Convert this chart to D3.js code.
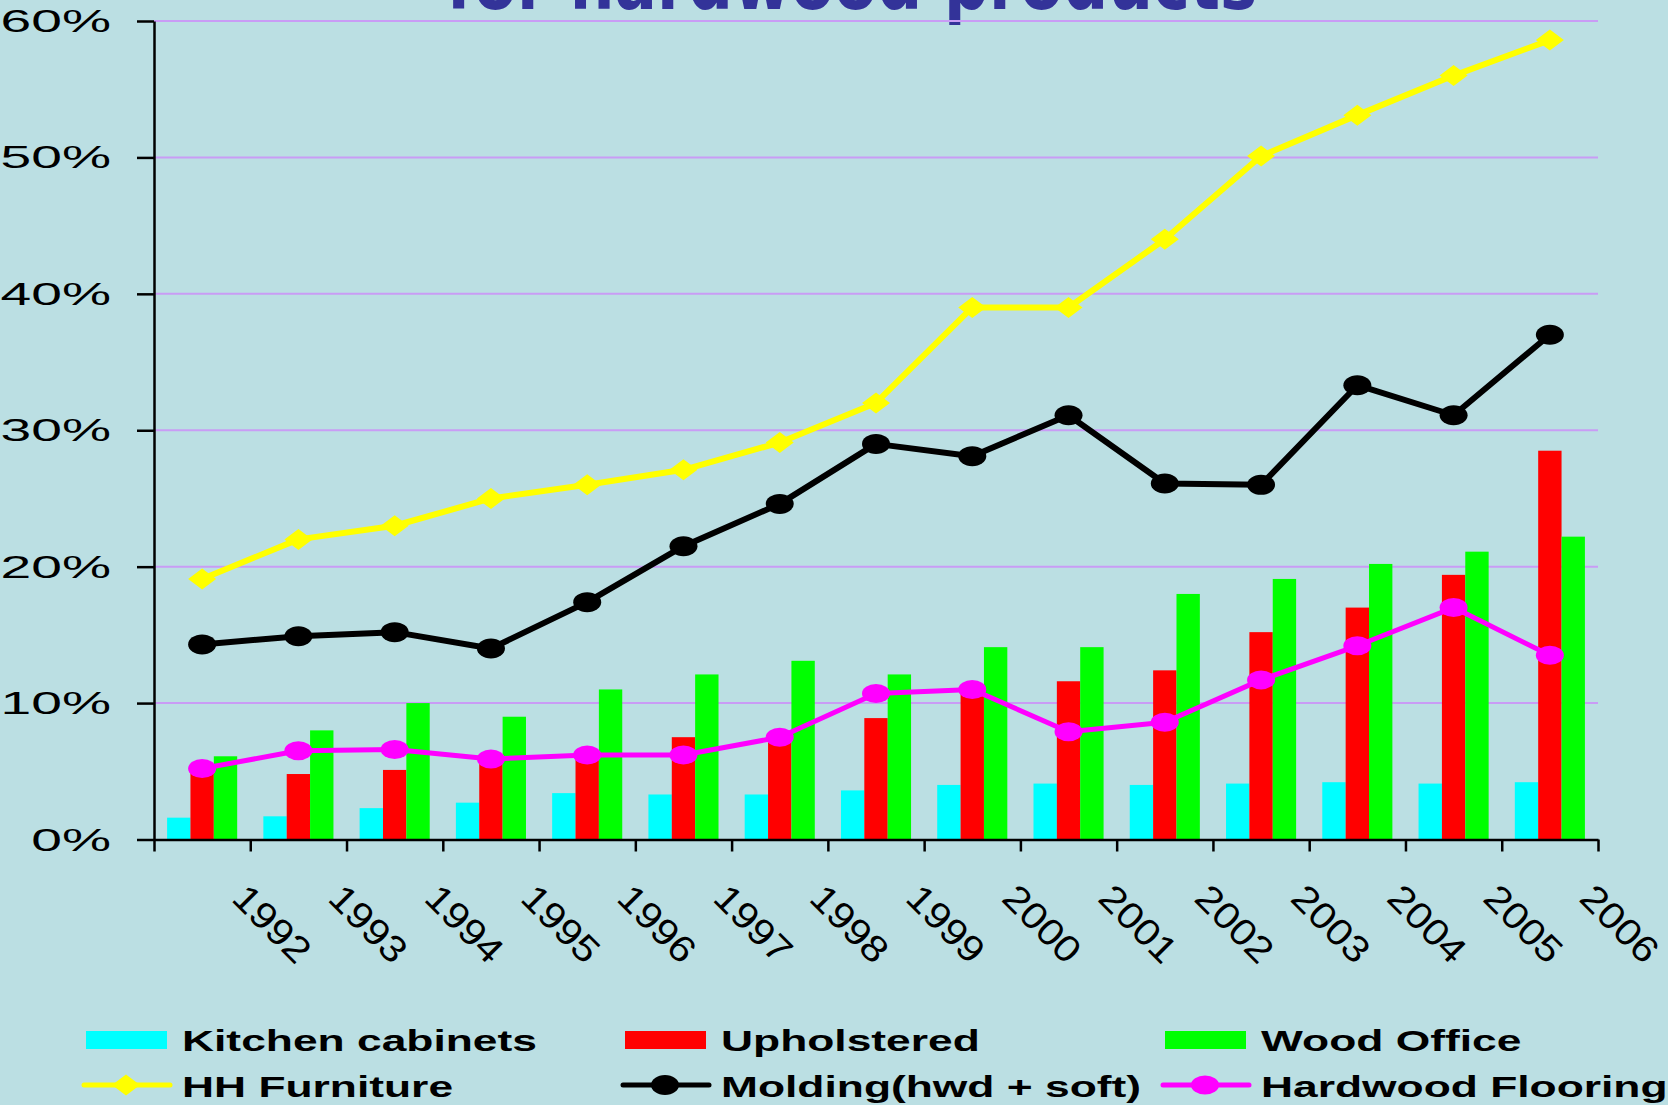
<!DOCTYPE html>
<html>
<head>
<meta charset="utf-8">
<script src="https://cdn.jsdelivr.net/npm/d3@7"></script>
<style>
  html, body { margin: 0; padding: 0; background: #bbdfe3; overflow: hidden; }
  svg { display: block; font-family: "Liberation Sans", Arial, sans-serif; }
</style>
</head>
<body>
<svg id="chart" width="1668" height="1105"></svg>
<script>
var years = ['1992','1993','1994','1995','1996','1997','1998','1999','2000','2001','2002','2003','2004','2005','2006'];

// bar series (percent)
var kitchen     = [1.6, 1.7, 2.3, 2.7, 3.4, 3.3, 3.3, 3.6, 4.0, 4.1, 4.0, 4.1, 4.2, 4.1, 4.2];
var upholstered = [4.9, 4.8, 5.1, 6.0, 6.1, 7.5, 7.2, 8.9, 10.8, 11.6, 12.4, 15.2, 17.0, 19.4, 28.5];
var woodOffice  = [6.1, 8.0, 10.0, 9.0, 11.0, 12.1, 13.1, 12.1, 14.1, 14.1, 18.0, 19.1, 20.2, 21.1, 22.2];

// line series (percent)
var hhFurniture = [19.1, 22.0, 23.0, 25.0, 26.0, 27.1, 29.1, 32.0, 39.0, 39.0, 44.0, 50.1, 53.1, 56.0, 58.6];
var molding     = [14.3, 14.9, 15.2, 14.0, 17.4, 21.5, 24.6, 29.0, 28.1, 31.1, 26.1, 26.0, 33.3, 31.1, 37.0];
var flooring    = [5.2, 6.5, 6.6, 5.9, 6.2, 6.2, 7.5, 10.7, 11.0, 7.9, 8.6, 11.7, 14.2, 17.0, 13.5];

var yTicks = [0, 10, 20, 30, 40, 50, 60];
var barNames = ['Kitchen cabinets', 'Upholstered', 'Wood Office'];
var lineNames = ['HH Furniture', 'Molding(hwd + soft)', 'Hardwood Flooring'];
var titleText = 'for hardwood products';

var svg = d3.select('#chart');

var x = d3.scaleBand().domain(years).range([154, 1598]);
var xs = d3.scaleBand().domain([0, 1, 2]).range([0, x.bandwidth()]).paddingOuter(0.56);
var y = d3.scaleLinear().domain([0, 60]).range([839.5, 21]);
var xEdge = d3.scaleLinear().domain([0, years.length]).range([154, 1598]);

var barColors = ['#00ffff', '#ff0000', '#00ff00'];
var lineColors = ['#ffff00', '#000000', '#ff00ff'];

// title (only its bottom edge shows, like the slide)
svg.append('text')
    .attr('x', 852)
    .attr('y', 9)
    .attr('text-anchor', 'middle')
    .attr('textLength', 811)
    .attr('lengthAdjust', 'spacingAndGlyphs')
    .attr('fill', '#333399')
    .style('font-family', '"Comic Sans MS", "DejaVu Sans", sans-serif')
    .style('font-weight', 'bold')
    .style('font-size', '78px')
    .text(titleText);

// gridlines
svg.append('g')
  .selectAll('line')
  .data(yTicks.slice(1))
  .enter().append('line')
    .attr('x1', 154)
    .attr('x2', 1598)
    .attr('y1', function(d) { return y(d); })
    .attr('y2', function(d) { return y(d); })
    .attr('stroke', '#c99cf5')
    .attr('stroke-width', 2);

// bars
var series = [kitchen, upholstered, woodOffice];
var barG = svg.append('g');
series.forEach(function(vals, si) {
  barG.append('g')
      .attr('fill', barColors[si])
    .selectAll('rect')
    .data(vals)
    .enter().append('rect')
      .attr('x', function(d, i) { return x(years[i]) + xs(si); })
      .attr('width', xs.bandwidth())
      .attr('y', function(d) { return y(d); })
      .attr('height', function(d) { return y(0) - y(d); });
});

// axes
var yAxis = svg.append('g')
    .attr('transform', 'translate(154,0)')
    .call(d3.axisLeft(y).tickValues(yTicks).tickSize(17).tickSizeOuter(0).tickFormat(''));
var xAxis = svg.append('g')
    .attr('transform', 'translate(0,' + y(0) + ')')
    .call(d3.axisBottom(xEdge).tickValues(d3.range(years.length + 1)).tickSize(12).tickSizeOuter(0).tickFormat(''));
[yAxis, xAxis].forEach(function(a) {
  a.selectAll('path, line').attr('stroke', '#000').attr('stroke-width', 2.5);
});

// y labels, stretched wide like the original
svg.append('g')
  .selectAll('text')
  .data(yTicks)
  .enter().append('text')
    .attr('transform', function(d) { return 'translate(111,' + (y(d) + 11) + ') scale(1.78,1)'; })
    .attr('text-anchor', 'end')
    .style('font-size', '31px')
    .text(function(d) { return d + '%'; });

// x labels, rotated
svg.append('g')
  .selectAll('text')
  .data(years)
  .enter().append('text')
    .attr('transform', function(d) { return 'translate(' + (x(d) + x.bandwidth() / 2 + 28) + ',900) rotate(45) scale(1.13,1)'; })
    .style('font-size', '37px')
    .text(function(d) { return d; });

// markers
function marker(sel, kind) {
  if (kind === 0) {
    sel.append('path').attr('d', 'M0,-10.5L14,0L0,10.5L-14,0Z');
  } else {
    sel.append('ellipse').attr('rx', 14).attr('ry', kind === 1 ? 10 : 9.5);
  }
}

// lines
var lineSeries = [hhFurniture, molding, flooring];
var cx = function(i) { return x(years[i]) + x.bandwidth() / 2; };
lineSeries.forEach(function(vals, li) {
  var line = d3.line()
      .x(function(d, i) { return cx(i); })
      .y(function(d) { return y(d); });
  svg.append('path')
      .datum(vals)
      .attr('d', line)
      .attr('fill', 'none')
      .attr('stroke', lineColors[li])
      .attr('stroke-width', li === 2 ? 5 : 6)
      .attr('stroke-linejoin', 'round');
  svg.append('g')
      .attr('fill', lineColors[li])
    .selectAll('g')
    .data(vals)
    .enter().append('g')
      .attr('transform', function(d, i) { return 'translate(' + cx(i) + ',' + y(d) + ')'; })
      .each(function() { marker(d3.select(this), li); });
});

// legend
var colX = [86, 625, 1165];
var legend = svg.append('g');
barNames.forEach(function(name, i) {
  legend.append('rect')
      .attr('x', colX[i]).attr('y', 1031)
      .attr('width', 81).attr('height', 18)
      .attr('fill', barColors[i]);
  legend.append('text')
      .attr('transform', 'translate(' + (colX[i] + 96) + ',1051) scale(1.53,1)')
      .style('font-size', '29px').style('font-weight', 'bold')
      .text(name);
});
lineNames.forEach(function(name, i) {
  legend.append('line')
      .attr('x1', colX[i] - 2).attr('x2', colX[i] + 84)
      .attr('y1', 1085).attr('y2', 1085)
      .attr('stroke', lineColors[i]).attr('stroke-width', 5)
      .attr('stroke-linecap', 'round');
  var m = legend.append('g')
      .attr('fill', lineColors[i])
      .attr('transform', 'translate(' + (colX[i] + 40) + ',1085)');
  marker(m, i);
  legend.append('text')
      .attr('transform', 'translate(' + (colX[i] + 96) + ',1097) scale(1.53,1)')
      .style('font-size', '29px').style('font-weight', 'bold')
      .text(name);
});
</script>
</body>
</html>
